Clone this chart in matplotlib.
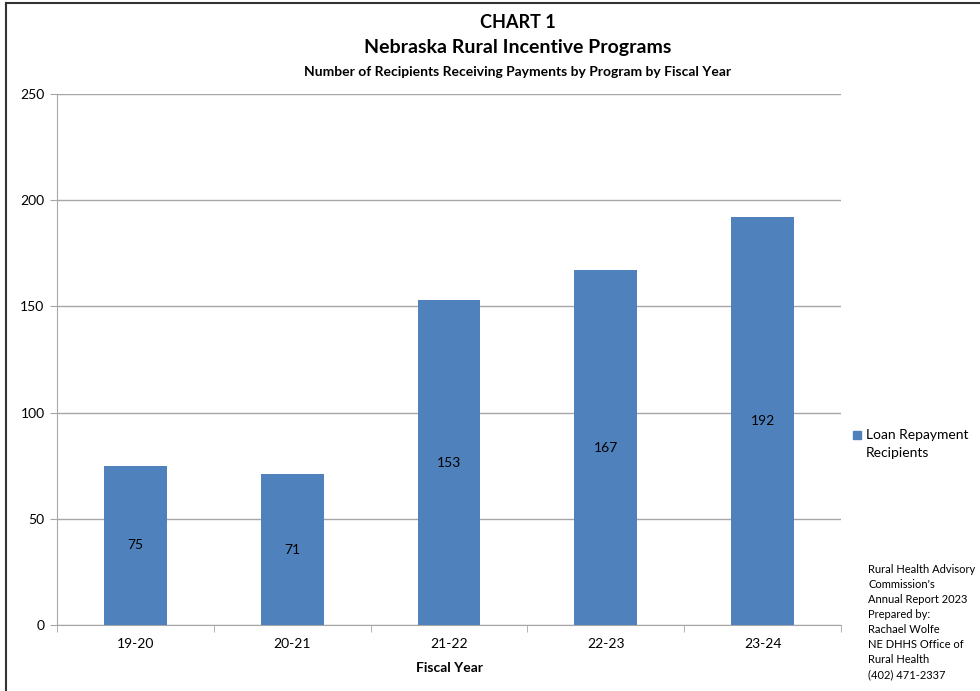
import matplotlib.pyplot as plt
from matplotlib.lines import Line2D
import numpy as np

plt.rcParams['font.family'] = ['Lato', 'DejaVu Sans']

years = ['19-20', '20-21', '21-22', '22-23', '23-24']
recipients = [75, 71, 153, 167, 192]
series_name = 'Loan Repayment\nRecipients'
note = ("Rural Health Advisory\nCommission's\nAnnual Report 2023\nPrepared by:\n"
        "Rachael Wolfe\nNE DHHS Office of\nRural Health\n(402) 471-2337")

bar_color = '#4f81bd'
grid_color = '#a6a6a6'

fig = plt.figure(figsize=(9.8, 6.91), dpi=100)
ax = fig.add_axes([57 / 980, 1 - 625 / 691, (841 - 57) / 980, (625 - 94) / 691])

x = np.arange(len(years))
bars = ax.bar(x, recipients, width=0.4, color=bar_color, zorder=3)
for b, v in zip(bars, recipients):
    ax.text(b.get_x() + b.get_width() / 2, v / 2, str(v), ha='center', va='center',
            fontsize=10, color='black', zorder=4)

ax.set_xlim(-0.5, len(years) - 0.5)
ax.set_ylim(0, 250)
ax.set_yticks(range(0, 251, 50))
ax.set_xticks(x)
ax.set_xticklabels(years)
ax.set_xticks(np.arange(-0.5, len(years), 1), minor=True)
ax.tick_params(axis='x', which='major', length=0, pad=9, labelsize=10)
ax.tick_params(axis='x', which='minor', length=5, color=grid_color, direction='out')
ax.tick_params(axis='y', length=5, color=grid_color, pad=4, labelsize=10)
ax.yaxis.grid(True, color=grid_color, linewidth=1, zorder=0)
for s in ['top', 'right']:
    ax.spines[s].set_visible(False)
for s in ['left', 'bottom']:
    ax.spines[s].set_color(grid_color)
ax.set_xlabel('Fiscal Year', fontsize=10, fontweight='bold', labelpad=9)

fig.text(518 / 980, 1 - 22 / 691, 'CHART 1', ha='center', va='center', fontsize=13, fontweight='bold')
fig.text(518 / 980, 1 - 48 / 691, 'Nebraska Rural Incentive Programs', ha='center', va='center',
         fontsize=14, fontweight='bold')
fig.text(518 / 980, 1 - 72 / 691, 'Number of Recipients Receiving Payments by Program by Fiscal Year',
         ha='center', va='center', fontsize=10, fontweight='bold')

# legend
fig.patches.append(plt.Rectangle((853 / 980, 1 - 439 / 691), 8 / 980, 8 / 691,
                                 transform=fig.transFigure, color=bar_color, figure=fig))
fig.text(866 / 980, 1 - 444 / 691, series_name, ha='left', va='center', fontsize=10,
         linespacing=1.65)
fig.text(868 / 980, 1 - 564 / 691, note, ha='left', va='top', fontsize=8, linespacing=1.45)

# outer frame
fig.add_artist(Line2D([6 / 980, 6 / 980], [0, 1 - 3 / 691], color='#333333', linewidth=1.5,
                      transform=fig.transFigure))
fig.add_artist(Line2D([6 / 980, 1], [1 - 3 / 691, 1 - 3 / 691], color='#333333', linewidth=1.5,
                      transform=fig.transFigure))

fig.savefig('out.png', dpi=100)
